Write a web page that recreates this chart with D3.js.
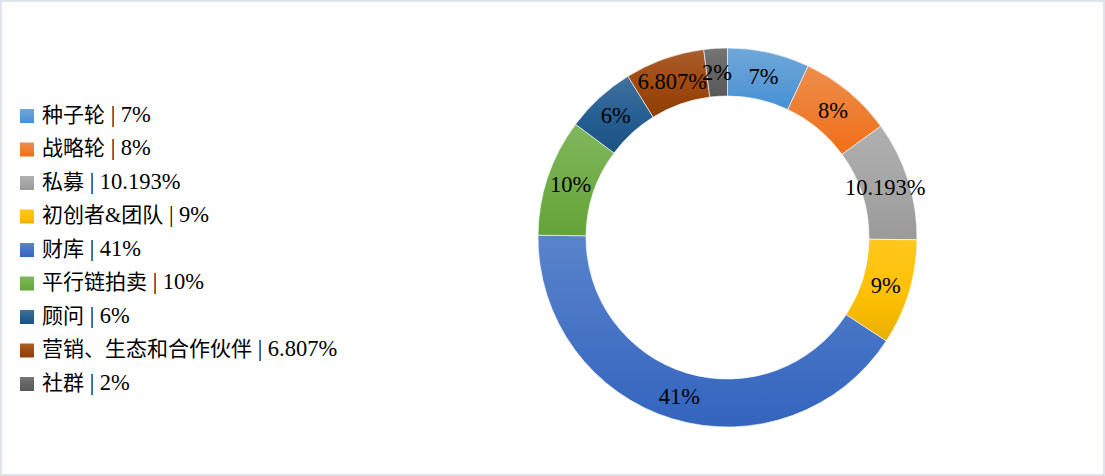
<!DOCTYPE html>
<html>
<head>
<meta charset="utf-8">
<script src="https://cdn.jsdelivr.net/npm/d3@7"></script>
<style>
  html, body { margin: 0; padding: 0; background: #fff; }
  svg text { font-family: "Liberation Serif", "Noto Sans CJK SC", serif; fill: #000; }
</style>
</head>
<body>
<svg id="chart" width="1105" height="476"></svg>
<script>
// categories and values, clockwise from 12 o'clock
const categories = ['种子轮', '战略轮', '私募', '初创者&团队', '财库', '平行链拍卖', '顾问', '营销、生态和合作伙伴', '社群']
const values = [7, 8, 10.193, 9, 41, 10, 6, 6.807, 2]
const valueLabels = ['7%', '8%', '10.193%', '9%', '41%', '10%', '6%', '6.807%', '2%']
const colors = ['#5b9bd5', '#ed7d31', '#a5a5a5', '#ffc000', '#4472c4', '#70ad47', '#255e91', '#9e480e', '#636363']

const svg = d3.select('#chart')

// chart frame
svg.append('rect')
  .attr('x', 1).attr('y', 1)
  .attr('width', 1103).attr('height', 474)
  .attr('fill', '#fff')
  .attr('stroke', '#dfe3ea')
  .attr('stroke-width', 2)

// vertical gradient per colour, lighter on top like the office fill
const defs = svg.append('defs')
colors.forEach(function(c, i) {
  const g = defs.append('linearGradient')
    .attr('id', 'grad' + i)
    .attr('x1', 0).attr('y1', 0).attr('x2', 0).attr('y2', 1)
  const bottom = d3.hsl(c)
  bottom.s = Math.min(1, bottom.s + 0.06)
  bottom.l = bottom.l - 0.045
  g.append('stop').attr('offset', '0%').attr('stop-color', d3.interpolateRgb(c, '#fff')(0.12))
  g.append('stop').attr('offset', '55%').attr('stop-color', c)
  g.append('stop').attr('offset', '100%').attr('stop-color', bottom.formatHex())
})

const cx = 727.5, cy = 237.5
const outerR = 189.5, innerR = 141.5

const pie = d3.pie().sort(null).value(d => d)
const arcs = pie(values)
const arc = d3.arc().innerRadius(innerR).outerRadius(outerR)
const labelArc = d3.arc().innerRadius((innerR + outerR) / 2).outerRadius((innerR + outerR) / 2)

const donut = svg.append('g').attr('transform', 'translate(' + cx + ',' + cy + ')')

donut.selectAll('path.slice')
  .data(arcs)
  .enter()
  .append('path')
  .attr('class', 'slice')
  .attr('d', arc)
  .attr('fill', (d, i) => 'url(#grad' + i + ')')
  .attr('stroke', '#fff')
  .attr('stroke-width', 0.6)

donut.selectAll('text.lbl')
  .data(arcs)
  .enter()
  .append('text')
  .attr('class', 'lbl')
  .attr('transform', d => 'translate(' + labelArc.centroid(d) + ')')
  .attr('text-anchor', 'middle')
  .attr('dy', '0.35em')
  .style('font-size', '22.5px')
  .text((d, i) => valueLabels[i])

// legend
const legend = svg.append('g')
const rowY = d3.scalePoint().domain(d3.range(categories.length)).range([116, 384])

const rows = legend.selectAll('g.row')
  .data(categories)
  .enter()
  .append('g')
  .attr('class', 'row')
  .attr('transform', (d, i) => 'translate(20,' + rowY(i) + ')')

rows.append('rect')
  .attr('x', 0).attr('y', -7)
  .attr('width', 14).attr('height', 14)
  .attr('fill', (d, i) => 'url(#grad' + i + ')')

const txt = rows.append('text')
  .attr('x', 22)
  .attr('dy', '0.36em')
txt.append('tspan')
  .style('font-size', '21px')
  .text(d => d)
txt.append('tspan')
  .style('font-size', '22.5px')
  .text((d, i) => ' | ' + valueLabels[i])
</script>
</body>
</html>
